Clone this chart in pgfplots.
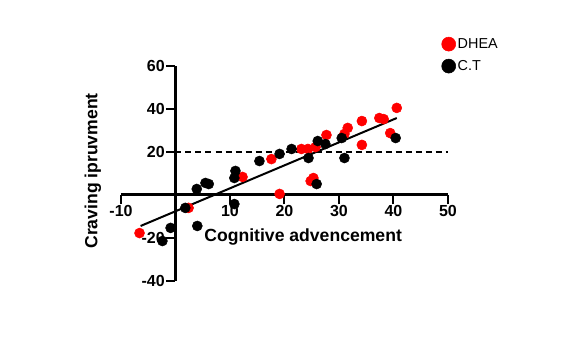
\documentclass[border=0pt]{standalone}
\usepackage{pgfplots}
\pgfplotsset{compat=1.18}
\usepackage{fontspec}
\setmainfont{Liberation Sans}
\begin{document}
\begin{tikzpicture}
\path[use as bounding box] (-90.75pt,-51.75pt) rectangle (347.25pt,210.75pt);
\begin{axis}[
  scale only axis, width=245.25pt, height=161.25pt,
  xmin=-10, xmax=50, ymin=-40, ymax=60,
  axis lines=middle,
  axis line style={line width=2.25pt,-},
  xtick={-10,10,20,30,40,50},
  ytick={-40,-20,20,40,60},
  xtick style={line width=1.5pt,black,yshift=-3.5pt},
  ytick style={line width=1.5pt,black,xshift=-3.5pt},
  major tick length=7pt,
  tick align=center,
  xticklabel style={font=\fontsize{12}{14}\selectfont\bfseries,yshift=-1pt},
  yticklabel style={font=\fontsize{12}{14}\selectfont\bfseries,xshift=-1pt},
  /pgf/number format/assume math mode=true,
  xlabel={Cognitive advencement},
  ylabel={Craving ipruvment},
  xlabel style={at={(axis description cs:0.557,0.205)},anchor=center,font=\fontsize{13.2}{15}\selectfont\bfseries},
  ylabel style={at={(axis description cs:-0.086,0.512)},anchor=center,rotate=90,font=\fontsize{13.2}{15}\selectfont\bfseries},
  clip=false,
  legend style={draw=none,fill=none,at={(axis description cs:0.98,1.14)},anchor=north west,
    font=\fontsize{10.8}{13}\selectfont, row sep=4.5pt, inner sep=0pt,
    nodes={inner sep=1.5pt}},
  legend cell align=left,
  legend image code/.code={\draw[#1,mark size=5.25pt] plot coordinates {(0.3em,0pt)};},
]
\addplot[only marks, mark=*, mark size=3.75pt, draw=none, fill=red, color=red] coordinates {
(-6.6,-17.7) (2.4,-6) (12.3,8.4) (17.6,16.7) (19.1,0.5) (23.1,21.4) (24.3,21.4)
(24.8,6.5) (25.3,7.9) (25.7,22.3) (27.7,27.9) (31.0,28.4) (31.6,31.2) (34.2,34.4)
(34.2,23.3) (37.4,35.8) (38.2,35.3) (39.4,28.8) (40.6,40.5)
};
\addlegendentry{DHEA}
\addplot[only marks, mark=*, mark size=3.75pt, color=black] coordinates {
(-2.4,-21.4) (-0.9,-15.3) (1.8,-6) (3.9,2.8) (4.0,-14.4) (5.5,5.6) (6.1,5.1)
(10.8,7.9) (11.0,11.2) (10.8,-4.2) (15.4,15.8) (19.1,19.1) (21.3,21.4) (24.4,17.2)
(25.9,5.1) (26.1,25.1) (27.5,23.7) (30.5,26.5) (31.0,17.2) (40.4,26.5)
};
\addlegendentry{C.T}
\addplot[black, line width=1.5pt, forget plot] coordinates {(-6.4,-14.4) (40.6,35.8)};
\addplot[black, line width=1.5pt, dash pattern=on 4.5pt off 3pt, forget plot] coordinates {(0,20) (50,20)};
\end{axis}
\end{tikzpicture}
\end{document}
